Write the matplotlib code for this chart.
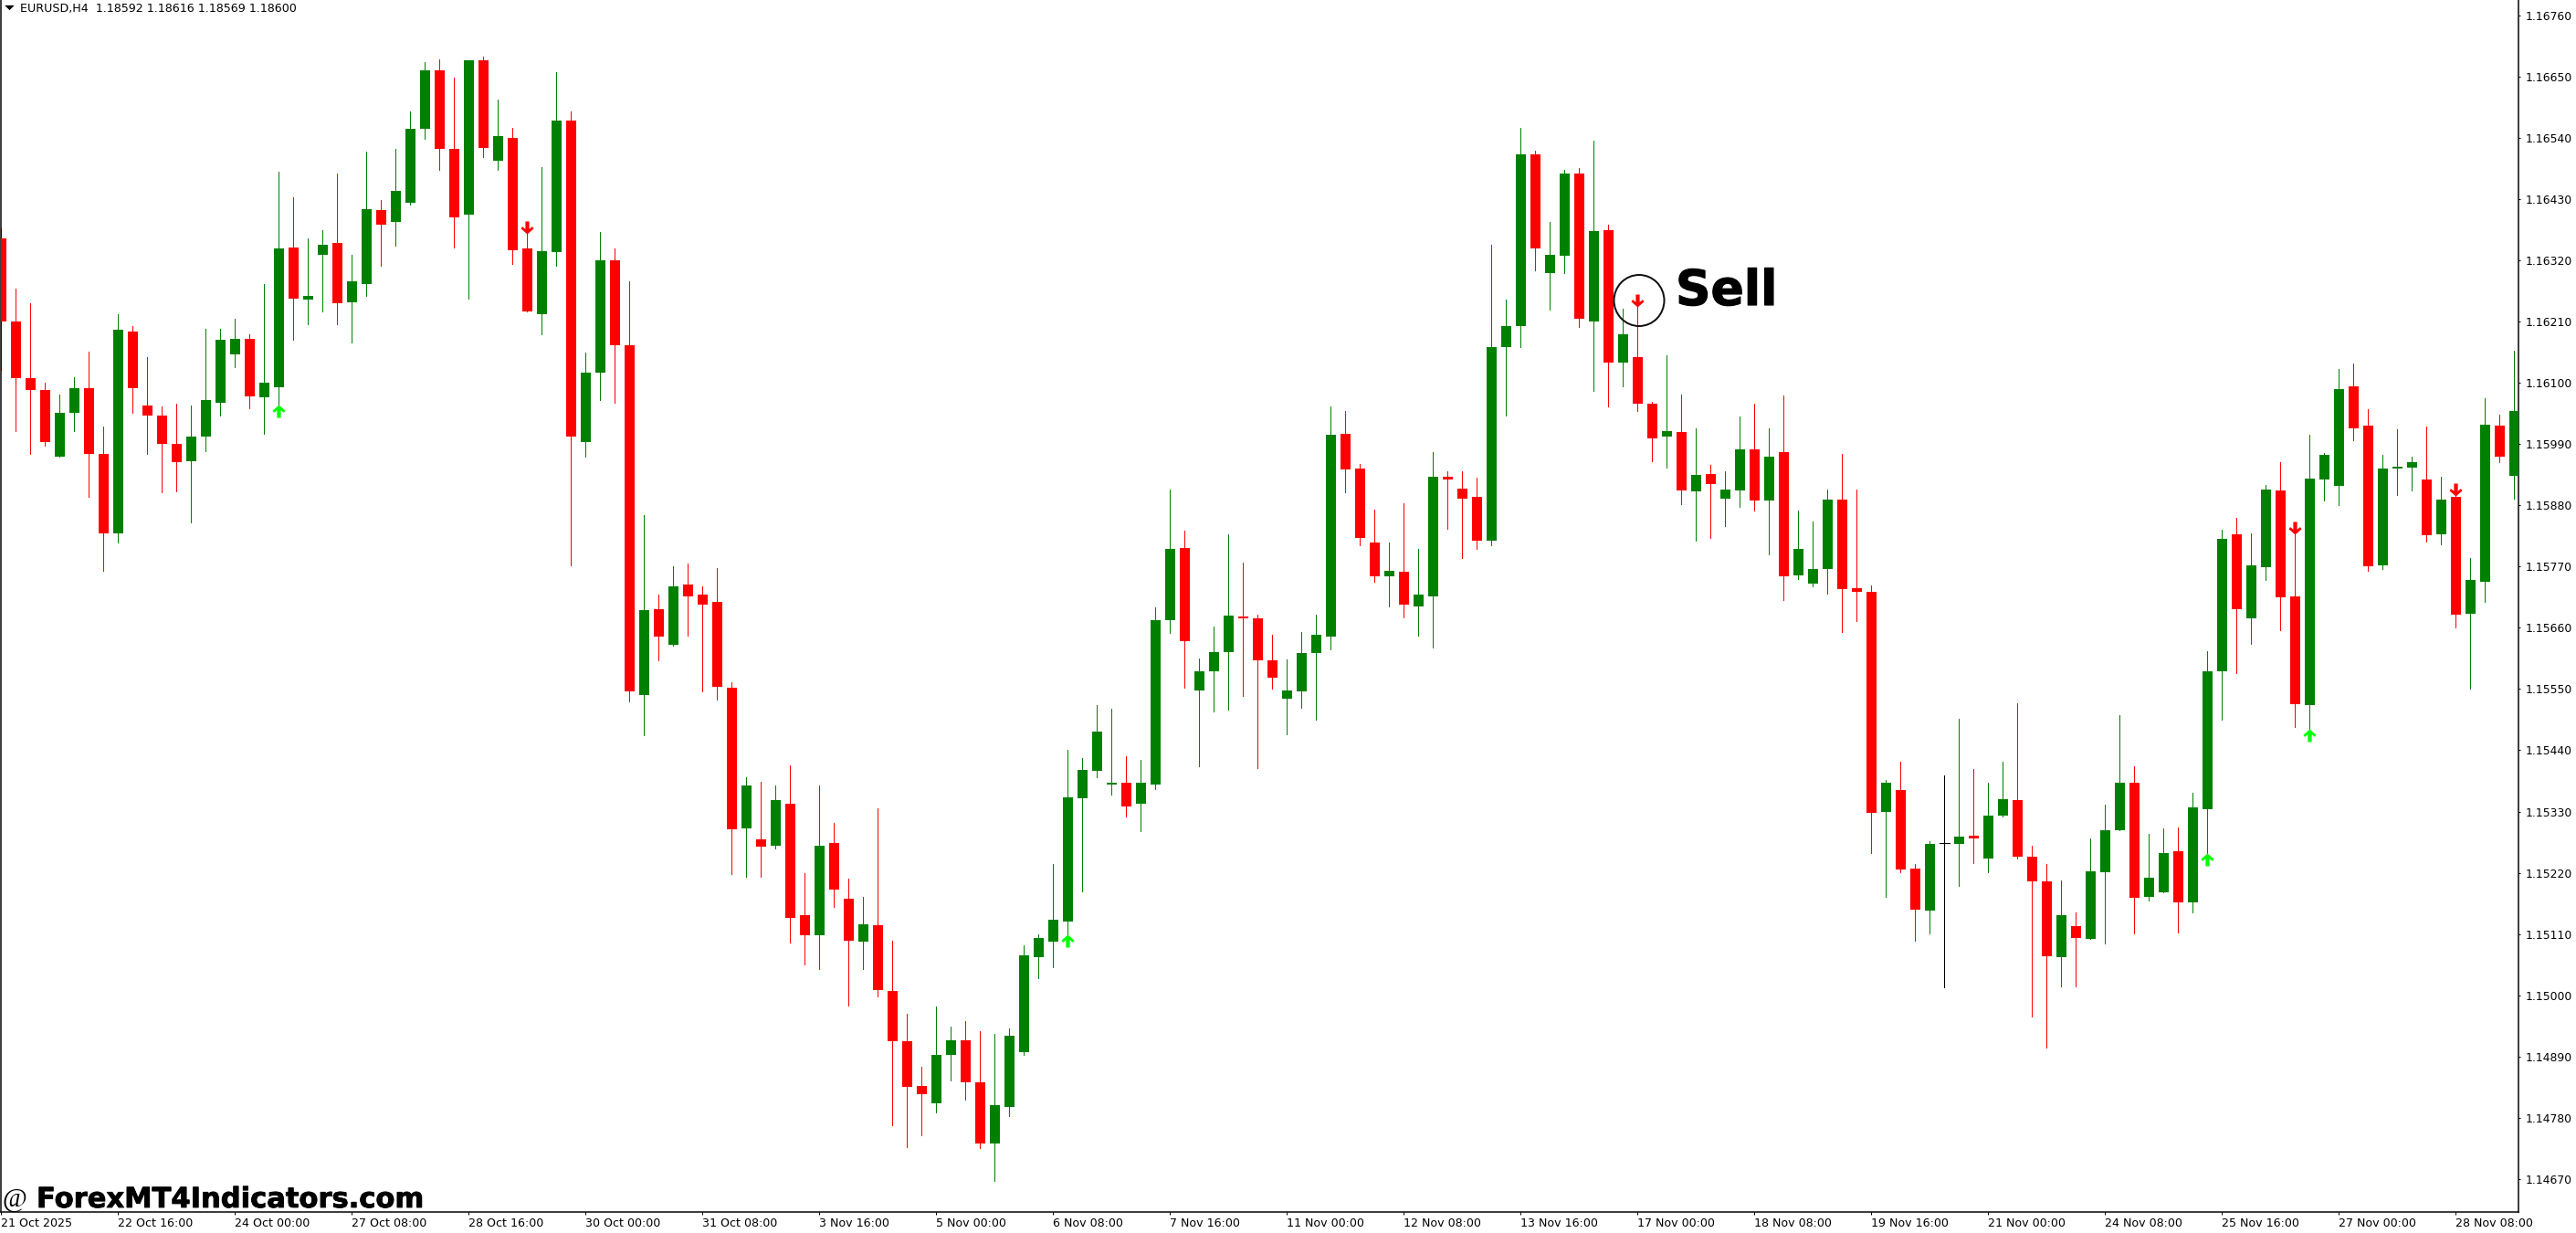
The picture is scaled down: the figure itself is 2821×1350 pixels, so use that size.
import matplotlib
matplotlib.use("Agg")
import matplotlib.pyplot as plt
import matplotlib.patheffects as pe
from matplotlib.patches import Ellipse
from matplotlib.path import Path

W, H = 2821, 1350

# Prices are in points (1e-5). R = bearish, G = bullish, D = doji
directions = ("RRRRGGRRGR" "RRRGGGGRGG" "RGGRGGRGGG" "RRGRGRRGGR" "GGRRGRGRRR"
              "RGRGRRGRRG" "RRRRGGRRGG" "GGGGGGGRGG" "GRGGGRRRGG" "GGRRRGRGGR"
              "RRGGGRGGRG" "RGRRGRGRGG" "RGRGGGRRRG" "RRGDGRGGRR" "RGRGGGRGGR"
              "GGGRGGRRGG" "GRRGGGRGRG" "GRG")

highs = [
    116377,116270,116244,116101,116079,116111,116157,116021,116224,116203,
    116146,116057,116062,116059,116198,116198,116216,116188,116277,116480,
    116433,116359,116375,116477,116331,116515,116428,116520,116588,116677,
    116681,116648,116679,116687,116609,116559,116368,116487,116658,116588,
    116154,116372,116341,116283,115863,115720,115771,115776,115735,115768,
    115562,115392,115384,115377,115413,115220,115377,115310,115210,115177,
    115336,115098,114966,114872,114980,114944,114954,114936,114931,114941,
    115089,115110,115236,115441,115426,115521,115515,115430,115422,115696,
    115909,115834,115605,115663,115828,115778,115684,115648,115604,115653,
    115684,116057,116049,115955,115873,115814,115884,115801,115976,115942,
    115942,115929,116349,116249,116559,116517,116390,116482,116486,116536,
    116385,116234,116238,116066,116150,116079,116019,115952,115942,116039,
    116063,116019,116078,115870,115851,115909,115973,115909,115736,115387,
    115420,115236,115277,115395,115497,115407,115382,115420,115525,115269,
    115235,115206,115148,115282,115343,115503,115411,115290,115300,115301,
    115364,115618,115837,115858,115830,115917,115958,115830,116007,115974,
    116125,116135,116053,115970,116016,115968,116021,115932,115900,115786,
    116073,116043,116158]

body_tops = [
    116359,116210,116108,116088,116047,116090,116090,115973,116195,116193,
    116060,116042,115990,116003,116069,116178,116180,116180,116101,116341,
    116344,116257,116349,116351,116282,116412,116410,116445,116556,116661,
    116661,116520,116679,116679,116543,116541,116342,116337,116571,116571,
    116119,116321,116321,116167,115692,115694,115735,115737,115719,115706,
    115553,115377,115280,115351,115344,115143,115269,115274,115174,115127,
    115125,115008,114917,114837,114893,114919,114919,114844,114803,114927,
    115072,115102,115136,115356,115405,115473,115382,115382,115382,115673,
    115801,115803,115582,115617,115682,115681,115677,115602,115548,115615,
    115648,116007,116009,115947,115814,115763,115761,115720,115931,115932,
    115910,115896,116165,116202,116510,116510,116331,116477,116477,116373,
    116375,116188,116147,116062,116014,116012,115935,115937,115909,115980,
    115980,115968,115975,115802,115765,115891,115891,115731,115725,115382,
    115369,115228,115272,115273,115285,115287,115323,115352,115351,115249,
    115205,115144,115124,115223,115297,115382,115382,115211,115256,115258,
    115338,115582,115820,115828,115773,115909,115907,115717,115928,115970,
    116089,116094,116024,115946,115950,115957,115927,115891,115896,115746,
    116025,116024,116050]

body_bottoms = [
    116210,116108,116088,115994,115968,116046,115973,115829,115830,116091,
    116041,115990,115957,115959,116003,116065,116151,116076,116075,116093,
    116252,116250,116331,116244,116245,116278,116385,116389,116423,116556,
    116520,116398,116402,116522,116499,116339,116229,116223,116335,116004,
    115993,116119,116168,115546,115540,115645,115630,115717,115702,115554,
    115298,115300,115267,115269,115139,115107,115108,115189,115098,115096,
    115010,114918,114836,114822,114806,114893,114843,114734,114733,114800,
    114898,115069,115096,115133,115354,115403,115379,115339,115344,115379,
    115673,115636,115548,115582,115617,115677,115602,115570,115533,115545,
    115614,115645,115945,115822,115752,115752,115701,115699,115717,115926,
    115892,115817,115816,116165,116202,116341,116298,116329,116216,116211,
    116137,116137,116062,116001,116003,115907,115905,115919,115892,115907,
    115889,115888,115753,115755,115740,115765,115730,115725,115328,115330,
    115226,115154,115152,115273,115272,115282,115246,115323,115249,115205,
    115070,115068,115103,115101,115221,115297,115175,115177,115185,115166,
    115166,115334,115582,115694,115677,115769,115715,115523,115521,115927,
    115915,116019,115771,115773,115946,115948,115827,115828,115684,115686,
    115743,115968,115933]

lows = [
    116124,116014,115973,115987,115968,116013,115895,115763,115814,116047,
    115973,115903,115905,115850,115978,116042,116128,116055,116008,116060,
    116178,116206,116229,116206,116173,116257,116311,116347,116421,116538,
    116482,116344,116252,116505,116482,116313,116229,116187,116311,115773,
    115968,116069,116065,115528,115467,115601,115628,115646,115546,115531,
    115218,115212,115213,115263,115094,115055,115047,115158,114982,115047,
    114997,114767,114727,114749,114790,114847,114813,114726,114667,114783,
    114893,115030,115051,115096,115187,115391,115360,115321,115294,115371,
    115651,115553,115412,115510,115513,115538,115408,115550,115468,115517,
    115495,115622,115904,115809,115742,115699,115679,115646,115625,115838,
    115786,115802,115809,116042,116165,116303,116231,116297,116201,116085,
    116058,116094,116050,115960,115948,115883,115816,115822,115843,115878,
    115871,115792,115710,115748,115735,115722,115653,115672,115256,115177,
    115221,115098,115111,115014,115196,115238,115221,115321,115246,114961,
    114906,115016,115016,115101,115093,115297,115111,115170,115185,115113,
    115148,115253,115495,115579,115631,115746,115656,115482,115476,115889,
    115881,115997,115762,115766,115899,115907,115815,115810,115661,115550,
    115707,115957,115892]

buy_bars = [19, 73, 151, 158]
buy_prices = [116049, 115098, 115244, 115467]
sell_bars = [36, 112, 157, 168]
sell_prices = [116379, 116248, 115840, 115908]

price_ticks = [114670 + 110 * k for k in range(20)]
time_tick_labels = ["21 Oct 2025", "22 Oct 16:00", "24 Oct 00:00", "27 Oct 08:00", "28 Oct 16:00",
                    "30 Oct 00:00", "31 Oct 08:00", "3 Nov 16:00", "5 Nov 00:00", "6 Nov 08:00",
                    "7 Nov 16:00", "11 Nov 00:00", "12 Nov 08:00", "13 Nov 16:00", "17 Nov 00:00",
                    "18 Nov 08:00", "19 Nov 16:00", "21 Nov 00:00", "24 Nov 08:00", "25 Nov 16:00",
                    "27 Nov 00:00", "28 Nov 08:00"]
header_text = "EURUSD,H4  1.18592 1.18616 1.18569 1.18600"

POINT = 1e-5
GREEN, RED, LIME = "#008000", "#FF0000", "#00FF00"
px = 72 / 100  # one pixel in points

fig = plt.figure(figsize=(W / 100, H / 100), dpi=100, facecolor="white")
ax = fig.add_axes([1 / W, (H - 1327.3) / H, (2758.3 - 1) / W, 1327.3 / H])
ax.set_xlim(-0.03, 172.3)
ax.set_ylim(1.14610, 1.16788)

xs = list(range(len(directions)))
colors = {"R": RED, "G": GREEN, "D": "black"}
cols = [colors[d] for d in directions]

ax.vlines(xs, [v * POINT for v in lows], [v * POINT for v in highs], colors=cols,
          linewidth=1.0 * px, antialiased=False, zorder=2)
bar_x = [x for x, d in zip(xs, directions) if d != "D"]
ax.bar(bar_x,
       [(t - b) * POINT for t, b, d in zip(body_tops, body_bottoms, directions) if d != "D"],
       bottom=[b * POINT for b, d in zip(body_bottoms, directions) if d != "D"],
       width=0.6875, color=[c for c, d in zip(cols, directions) if d != "D"],
       linewidth=0, antialiased=False, zorder=3)
for x, d, t in zip(xs, directions, body_tops):
    if d == "D":
        ax.hlines(t * POINT, x - 0.34, x + 0.34, colors="black", linewidth=1.0 * px,
                  antialiased=False, zorder=3)

up_arrow = Path([(0, 1), (1, 0.12), (0.78, -0.2), (0.3, 0.18), (0.3, -1), (-0.3, -1),
                 (-0.3, 0.18), (-0.78, -0.2), (-1, 0.12), (0, 1)], closed=True)
down_arrow = Path([(x, -y) for x, y in up_arrow.vertices], closed=True)
ax.scatter(buy_bars, [v * POINT for v in buy_prices], marker=up_arrow, s=(14 * px) ** 2,
           color=LIME, linewidths=0, zorder=5)
ax.scatter(sell_bars, [v * POINT for v in sell_prices], marker=down_arrow, s=(14 * px) ** 2,
           color=RED, linewidths=0, zorder=5)

ax.spines["top"].set_visible(False)
for s in ("left", "right", "bottom"):
    ax.spines[s].set_linewidth(1.5 * px)
    ax.spines[s].set_color("black")

ax.yaxis.tick_right()
ax.set_yticks([v * POINT for v in price_ticks])
ax.set_yticklabels([f"{v * POINT:.5f}" for v in price_ticks])
ax.tick_params(axis="y", length=2.5 * px, width=1.0 * px, pad=5 * px, labelsize=8.9,
               labelcolor="black", color="black")
ax.set_xticks(xs[::8])
ax.set_xticklabels(time_tick_labels, ha="left")
ax.tick_params(axis="x", length=3 * px, width=1.0 * px, pad=3 * px, labelsize=9.1,
               labelcolor="black", color="black")

# Annotations placed on the picture
def fx(x): return x / W
def fy(y): return 1 - y / H

fig.text(fx(22), fy(9.5), header_text, fontsize=9.1, va="center", ha="left", color="black")
triangle = Path([(-1, 0.5), (1, 0.5), (0, -0.5), (-1, 0.5)], closed=True)
fig.add_artist(plt.Line2D([fx(9.7)], [fy(8)], marker=triangle, markersize=10.5 * px,
                          color="black", markeredgewidth=0, linestyle="none"))
fig.add_artist(Ellipse((fx(1795), fy(329)), 55 / W, 56 / H, transform=fig.transFigure,
                       fill=False, edgecolor="#111111", linewidth=2 * px))
heavy = [pe.withStroke(linewidth=1.2 * px, foreground="black")]
fig.text(fx(1835), fy(334), "Sell", fontsize=38.5, fontfamily="DejaVu Sans", fontweight="bold",
         color="black", va="baseline", ha="left", path_effects=heavy)
fig.text(fx(2), fy(1321), "@", fontsize=21, fontfamily="Liberation Serif", color="black",
         va="baseline", ha="left")
heavy2 = [pe.withStroke(linewidth=0.8 * px, foreground="black")]
fig.text(fx(40), fy(1322), "ForexMT4Indicators.com", fontsize=22, fontfamily="DejaVu Sans",
         fontweight="bold", color="black", va="baseline", ha="left", path_effects=heavy2)

fig.savefig("out.png", dpi=100, facecolor="white")
